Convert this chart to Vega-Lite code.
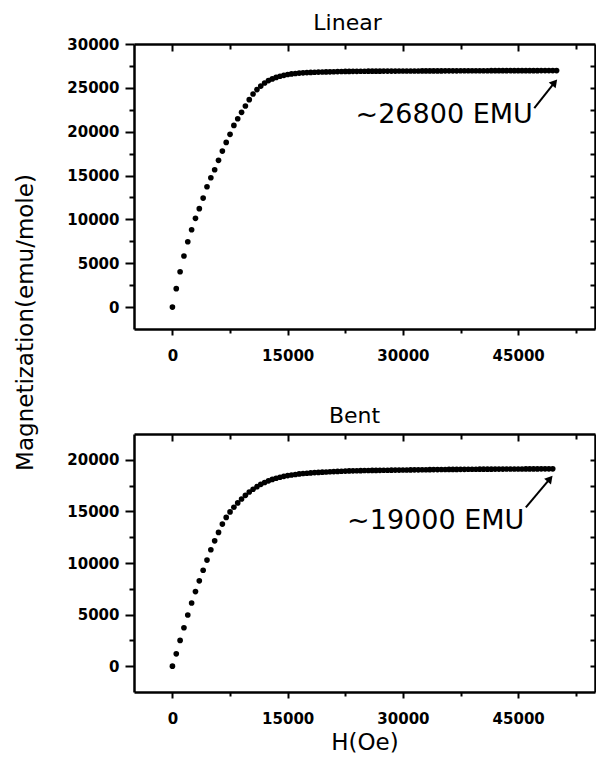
{
  "$schema": "https://vega.github.io/schema/vega-lite/v6.json",
  "background": "white",
  "padding": {"left": 14, "top": 12, "right": 0, "bottom": 0},
  "bounds": "flush",
  "spacing": 105,
  "config": {
    "view": {"stroke": null},
    "axis": {
      "grid": false,
      "domainColor": "black",
      "domainWidth": 2.5,
      "tickColor": "black",
      "tickWidth": 2,
      "labelFont": "DejaVu Sans",
      "labelFontWeight": "bold",
      "labelFontSize": 15,
      "labelColor": "black",
      "labelFlush": false,
      "labelOverlap": false,
      "titleFont": "DejaVu Sans",
      "titleFontWeight": "normal",
      "titleFontSize": 23,
      "titleColor": "black"
    },
    "title": {"font": "DejaVu Sans", "fontSize": 22, "fontWeight": "normal", "color": "black"}
  },
  "datasets": {
    "linear": [
      {"H": 0, "M": 0}, {"H": 500, "M": 2100}, {"H": 1000, "M": 4030}, {"H": 1500, "M": 5820},
      {"H": 2000, "M": 7450}, {"H": 2500, "M": 8820}, {"H": 3000, "M": 10120}, {"H": 3500, "M": 11220},
      {"H": 4000, "M": 12430}, {"H": 4500, "M": 13720}, {"H": 5000, "M": 14750}, {"H": 5500, "M": 15660},
      {"H": 6000, "M": 16730}, {"H": 6500, "M": 17790}, {"H": 7000, "M": 18780}, {"H": 7500, "M": 19700},
      {"H": 8000, "M": 20720}, {"H": 8500, "M": 21480}, {"H": 9000, "M": 22210}, {"H": 9500, "M": 22930},
      {"H": 10000, "M": 23650}, {"H": 10500, "M": 24300}, {"H": 11000, "M": 24800}, {"H": 11500, "M": 25200},
      {"H": 12000, "M": 25550}, {"H": 12500, "M": 25830}, {"H": 13000, "M": 26020}, {"H": 13500, "M": 26190},
      {"H": 14000, "M": 26320}, {"H": 14500, "M": 26430}, {"H": 15000, "M": 26520}, {"H": 15500, "M": 26590},
      {"H": 16000, "M": 26640}, {"H": 16500, "M": 26680}, {"H": 17000, "M": 26710}, {"H": 17500, "M": 26740},
      {"H": 18000, "M": 26760}, {"H": 18500, "M": 26780}, {"H": 19000, "M": 26800}, {"H": 19500, "M": 26810},
      {"H": 20000, "M": 26820}, {"H": 20500, "M": 26830}, {"H": 21000, "M": 26840}, {"H": 21500, "M": 26850},
      {"H": 22000, "M": 26860}, {"H": 22500, "M": 26870}, {"H": 23000, "M": 26875}, {"H": 23500, "M": 26880},
      {"H": 24000, "M": 26885}, {"H": 24500, "M": 26890}, {"H": 25000, "M": 26895}, {"H": 25500, "M": 26900},
      {"H": 26000, "M": 26900}, {"H": 26500, "M": 26905}, {"H": 27000, "M": 26905}, {"H": 27500, "M": 26910},
      {"H": 28000, "M": 26910}, {"H": 28500, "M": 26915}, {"H": 29000, "M": 26915}, {"H": 29500, "M": 26920},
      {"H": 30000, "M": 26920}, {"H": 30500, "M": 26920}, {"H": 31000, "M": 26925}, {"H": 31500, "M": 26925},
      {"H": 32000, "M": 26925}, {"H": 32500, "M": 26930}, {"H": 33000, "M": 26930}, {"H": 33500, "M": 26930},
      {"H": 34000, "M": 26935}, {"H": 34500, "M": 26935}, {"H": 35000, "M": 26935}, {"H": 35500, "M": 26940},
      {"H": 36000, "M": 26940}, {"H": 36500, "M": 26940}, {"H": 37000, "M": 26940}, {"H": 37500, "M": 26945},
      {"H": 38000, "M": 26945}, {"H": 38500, "M": 26945}, {"H": 39000, "M": 26945}, {"H": 39500, "M": 26950},
      {"H": 40000, "M": 26950}, {"H": 40500, "M": 26950}, {"H": 41000, "M": 26950}, {"H": 41500, "M": 26955},
      {"H": 42000, "M": 26955}, {"H": 42500, "M": 26955}, {"H": 43000, "M": 26955}, {"H": 43500, "M": 26958},
      {"H": 44000, "M": 26958}, {"H": 44500, "M": 26960}, {"H": 45000, "M": 26960}, {"H": 45500, "M": 26960},
      {"H": 46000, "M": 26962}, {"H": 46500, "M": 26962}, {"H": 47000, "M": 26963}, {"H": 47500, "M": 26963},
      {"H": 48000, "M": 26964}, {"H": 48500, "M": 26964}, {"H": 49000, "M": 26965}, {"H": 49500, "M": 26965},
      {"H": 50000, "M": 26965}
    ],
    "bent": [
      {"H": 0, "M": 0}, {"H": 500, "M": 1200}, {"H": 1000, "M": 2500}, {"H": 1500, "M": 3730},
      {"H": 2000, "M": 4960}, {"H": 2500, "M": 6120}, {"H": 3000, "M": 7230}, {"H": 3500, "M": 8270},
      {"H": 4000, "M": 9300}, {"H": 4500, "M": 10280}, {"H": 5000, "M": 11280}, {"H": 5500, "M": 12150},
      {"H": 6000, "M": 12960}, {"H": 6500, "M": 13770}, {"H": 7000, "M": 14420}, {"H": 7500, "M": 14950},
      {"H": 8000, "M": 15400}, {"H": 8500, "M": 15820}, {"H": 9000, "M": 16200}, {"H": 9500, "M": 16560},
      {"H": 10000, "M": 16880}, {"H": 10500, "M": 17150}, {"H": 11000, "M": 17400}, {"H": 11500, "M": 17620},
      {"H": 12000, "M": 17800}, {"H": 12500, "M": 17960}, {"H": 13000, "M": 18100}, {"H": 13500, "M": 18210},
      {"H": 14000, "M": 18310}, {"H": 14500, "M": 18400}, {"H": 15000, "M": 18470}, {"H": 15500, "M": 18530},
      {"H": 16000, "M": 18580}, {"H": 16500, "M": 18630}, {"H": 17000, "M": 18670}, {"H": 17500, "M": 18700},
      {"H": 18000, "M": 18730}, {"H": 18500, "M": 18760}, {"H": 19000, "M": 18780}, {"H": 19500, "M": 18800},
      {"H": 20000, "M": 18820}, {"H": 20500, "M": 18840}, {"H": 21000, "M": 18860}, {"H": 21500, "M": 18875},
      {"H": 22000, "M": 18890}, {"H": 22500, "M": 18905}, {"H": 23000, "M": 18920}, {"H": 23500, "M": 18930},
      {"H": 24000, "M": 18940}, {"H": 24500, "M": 18950}, {"H": 25000, "M": 18960}, {"H": 25500, "M": 18965},
      {"H": 26000, "M": 18970}, {"H": 26500, "M": 18975}, {"H": 27000, "M": 18980}, {"H": 27500, "M": 18985},
      {"H": 28000, "M": 18990}, {"H": 28500, "M": 18995}, {"H": 29000, "M": 19000}, {"H": 29500, "M": 19005},
      {"H": 30000, "M": 19010}, {"H": 30500, "M": 19015}, {"H": 31000, "M": 19020}, {"H": 31500, "M": 19025},
      {"H": 32000, "M": 19030}, {"H": 32500, "M": 19035}, {"H": 33000, "M": 19040}, {"H": 33500, "M": 19045},
      {"H": 34000, "M": 19050}, {"H": 34500, "M": 19055}, {"H": 35000, "M": 19060}, {"H": 35500, "M": 19063},
      {"H": 36000, "M": 19066}, {"H": 36500, "M": 19069}, {"H": 37000, "M": 19072}, {"H": 37500, "M": 19075},
      {"H": 38000, "M": 19078}, {"H": 38500, "M": 19081}, {"H": 39000, "M": 19084}, {"H": 39500, "M": 19087},
      {"H": 40000, "M": 19090}, {"H": 40500, "M": 19092}, {"H": 41000, "M": 19094}, {"H": 41500, "M": 19096},
      {"H": 42000, "M": 19098}, {"H": 42500, "M": 19100}, {"H": 43000, "M": 19102}, {"H": 43500, "M": 19104},
      {"H": 44000, "M": 19106}, {"H": 44500, "M": 19108}, {"H": 45000, "M": 19110}, {"H": 45500, "M": 19112},
      {"H": 46000, "M": 19114}, {"H": 46500, "M": 19116}, {"H": 47000, "M": 19118}, {"H": 47500, "M": 19120},
      {"H": 48000, "M": 19122}, {"H": 48500, "M": 19124}, {"H": 49000, "M": 19126}, {"H": 49500, "M": 19128}
    ],
    "linearNote": [{"H": 46900, "M": 21000, "label": "~26800 EMU"}],
    "linearArrow": [{"H": 47100, "M": 22700}, {"H": 49750, "M": 25620}],
    "linearHead": [{"H": 49750, "M": 25620}],
    "bentNote": [{"H": 45800, "M": 13300, "label": "~19000 EMU"}],
    "bentArrow": [{"H": 46000, "M": 15390}, {"H": 49150, "M": 18170}],
    "bentHead": [{"H": 49150, "M": 18170}]
  },
  "vconcat": [
    {
      "width": 461,
      "height": 285,
      "title": {"text": "Linear", "dx": -17, "offset": -15, "baseline": "alphabetic", "frame": "group"},
      "layer": [
        {
          "data": {"name": "linear"},
          "mark": {"type": "circle", "size": 32, "color": "black", "opacity": 1},
          "encoding": {
            "x": {"field": "H", "type": "quantitative", "scale": {"domain": [-5000, 55000], "nice": false, "zero": false},
              "axis": {"orient": "bottom", "title": null, "values": [0, 7500, 15000, 22500, 30000, 37500, 45000, 52500], "format": "d",
                "labelExpr": "datum.value % 15000 === 0 ? datum.label : ''",
                "tickSize": {"condition": {"test": "datum.value % 15000 === 0", "value": 6}, "value": 4},
                "labelPadding": 13}},
            "y": {"field": "M", "type": "quantitative", "scale": {"domain": [-2500, 30000], "nice": false, "zero": false},
              "axis": {"orient": "left", "title": "Magnetization(emu/mole)", "values": [0, 2500, 5000, 7500, 10000, 12500, 15000, 17500, 20000, 22500, 25000, 27500, 30000], "format": "d",
                "labelExpr": "datum.value % 5000 === 0 ? datum.label : ''",
                "tickSize": {"condition": {"test": "datum.value % 5000 === 0", "value": 9}, "value": 5},
                "labelPadding": 6,
                "titleAngle": -90, "titleAlign": "center", "titleBaseline": "alphabetic", "titleX": -102, "titleY": 278}}
          }
        },
        {
          "data": {"name": "linear"},
          "mark": {"type": "circle", "size": 22, "opacity": 0},
          "encoding": {
            "x": {"field": "H", "type": "quantitative", "scale": {"domain": [-5000, 55000], "nice": false, "zero": false},
              "axis": {"orient": "top", "title": null, "labels": false, "values": [0, 7500, 15000, 22500, 30000, 37500, 45000, 52500],
                "tickSize": {"condition": {"test": "datum.value % 15000 === 0", "value": -7}, "value": -5}}},
            "y": {"field": "M", "type": "quantitative", "scale": {"domain": [-2500, 30000], "nice": false, "zero": false},
              "axis": {"orient": "right", "title": null, "labels": false, "values": [0, 2500, 5000, 7500, 10000, 12500, 15000, 17500, 20000, 22500, 25000, 27500],
                "tickSize": -5}}
          }
        },
        {
          "data": {"name": "linearNote"},
          "mark": {"type": "text", "align": "right", "baseline": "alphabetic", "font": "DejaVu Sans", "fontSize": 27, "color": "black"},
          "encoding": {
            "x": {"field": "H", "type": "quantitative", "scale": {"domain": [-5000, 55000], "nice": false, "zero": false}, "axis": null},
            "y": {"field": "M", "type": "quantitative", "scale": {"domain": [-2500, 30000], "nice": false, "zero": false}, "axis": null},
            "text": {"field": "label"}
          }
        },
        {
          "data": {"name": "linearArrow"},
          "mark": {"type": "line", "color": "black", "strokeWidth": 2},
          "encoding": {
            "x": {"field": "H", "type": "quantitative", "scale": {"domain": [-5000, 55000], "nice": false, "zero": false}, "axis": null},
            "y": {"field": "M", "type": "quantitative", "scale": {"domain": [-2500, 30000], "nice": false, "zero": false}, "axis": null}
          }
        },
        {
          "data": {"name": "linearHead"},
          "mark": {"type": "point", "shape": "triangle-up", "filled": true, "size": 80, "angle": 40, "color": "black", "opacity": 1},
          "encoding": {
            "x": {"field": "H", "type": "quantitative", "scale": {"domain": [-5000, 55000], "nice": false, "zero": false}, "axis": null},
            "y": {"field": "M", "type": "quantitative", "scale": {"domain": [-2500, 30000], "nice": false, "zero": false}, "axis": null}
          }
        }
      ],
      "resolve": {"axis": {"x": "independent", "y": "independent"}}
    },
    {
      "width": 461,
      "height": 258,
      "title": {"text": "Bent", "dx": -10, "offset": -12, "baseline": "alphabetic", "frame": "group"},
      "layer": [
        {
          "data": {"name": "bent"},
          "mark": {"type": "circle", "size": 32, "color": "black", "opacity": 1},
          "encoding": {
            "x": {"field": "H", "type": "quantitative", "scale": {"domain": [-5000, 55000], "nice": false, "zero": false},
              "axis": {"orient": "bottom", "title": "H(Oe)", "values": [0, 7500, 15000, 22500, 30000, 37500, 45000, 52500], "format": "d",
                "labelExpr": "datum.value % 15000 === 0 ? datum.label : ''",
                "tickSize": {"condition": {"test": "datum.value % 15000 === 0", "value": 6}, "value": 4},
                "labelPadding": 13,
                "titleBaseline": "alphabetic", "titleY": 57}},
            "y": {"field": "M", "type": "quantitative", "scale": {"domain": [-2500, 22500], "nice": false, "zero": false},
              "axis": {"orient": "left", "title": null, "values": [0, 2500, 5000, 7500, 10000, 12500, 15000, 17500, 20000], "format": "d",
                "labelExpr": "datum.value % 5000 === 0 ? datum.label : ''",
                "tickSize": {"condition": {"test": "datum.value % 5000 === 0", "value": 9}, "value": 5},
                "labelPadding": 6}}
          }
        },
        {
          "data": {"name": "bent"},
          "mark": {"type": "circle", "size": 22, "opacity": 0},
          "encoding": {
            "x": {"field": "H", "type": "quantitative", "scale": {"domain": [-5000, 55000], "nice": false, "zero": false},
              "axis": {"orient": "top", "title": null, "labels": false, "values": [0, 7500, 15000, 22500, 30000, 37500, 45000, 52500],
                "tickSize": {"condition": {"test": "datum.value % 15000 === 0", "value": -7}, "value": -5}}},
            "y": {"field": "M", "type": "quantitative", "scale": {"domain": [-2500, 22500], "nice": false, "zero": false},
              "axis": {"orient": "right", "title": null, "labels": false, "values": [0, 2500, 5000, 7500, 10000, 12500, 15000, 17500, 20000],
                "tickSize": -5}}
          }
        },
        {
          "data": {"name": "bentNote"},
          "mark": {"type": "text", "align": "right", "baseline": "alphabetic", "font": "DejaVu Sans", "fontSize": 27, "color": "black"},
          "encoding": {
            "x": {"field": "H", "type": "quantitative", "scale": {"domain": [-5000, 55000], "nice": false, "zero": false}, "axis": null},
            "y": {"field": "M", "type": "quantitative", "scale": {"domain": [-2500, 22500], "nice": false, "zero": false}, "axis": null},
            "text": {"field": "label"}
          }
        },
        {
          "data": {"name": "bentArrow"},
          "mark": {"type": "line", "color": "black", "strokeWidth": 2},
          "encoding": {
            "x": {"field": "H", "type": "quantitative", "scale": {"domain": [-5000, 55000], "nice": false, "zero": false}, "axis": null},
            "y": {"field": "M", "type": "quantitative", "scale": {"domain": [-2500, 22500], "nice": false, "zero": false}, "axis": null}
          }
        },
        {
          "data": {"name": "bentHead"},
          "mark": {"type": "point", "shape": "triangle-up", "filled": true, "size": 80, "angle": 40, "color": "black", "opacity": 1},
          "encoding": {
            "x": {"field": "H", "type": "quantitative", "scale": {"domain": [-5000, 55000], "nice": false, "zero": false}, "axis": null},
            "y": {"field": "M", "type": "quantitative", "scale": {"domain": [-2500, 22500], "nice": false, "zero": false}, "axis": null}
          }
        }
      ],
      "resolve": {"axis": {"x": "independent", "y": "independent"}}
    }
  ]
}
